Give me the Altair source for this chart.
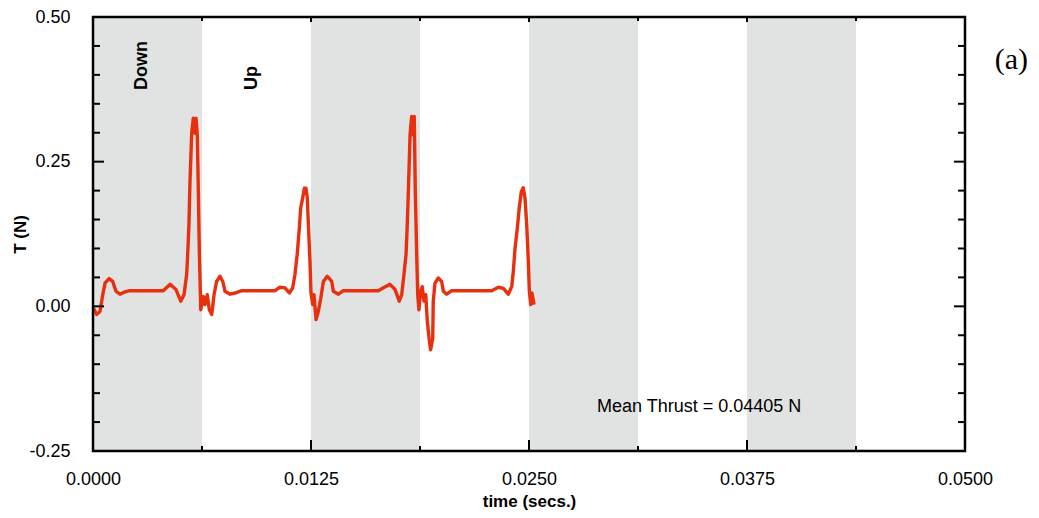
import altair as alt
import pandas as pd

W, H = 872, 434

# Thrust trace
time_s = [0.00002, 0.00021, 0.00040, 0.00056, 0.00069, 0.00092, 0.00113, 0.00132, 0.00155, 0.00183,
          0.00212, 0.00403, 0.00442, 0.00476, 0.00503, 0.00522, 0.00537, 0.00543, 0.00550, 0.00556,
          0.00566, 0.00575, 0.00585, 0.00591, 0.00598, 0.00604, 0.00610, 0.00618, 0.00632, 0.00642,
          0.00655, 0.00667, 0.00681, 0.00694, 0.00709, 0.00728, 0.00744, 0.00757, 0.00786, 0.00814,
          0.00853, 0.01044, 0.01072, 0.01101, 0.01126, 0.01145, 0.01158, 0.01171, 0.01183, 0.01191,
          0.01202, 0.01212, 0.01221, 0.01229, 0.01235, 0.01244, 0.01250, 0.01260, 0.01267, 0.01279,
          0.01292, 0.01306, 0.01321, 0.01343, 0.01369, 0.01378, 0.01407, 0.01435, 0.01636, 0.01665,
          0.01703, 0.01732, 0.01756, 0.01770, 0.01783, 0.01795, 0.01802, 0.01810, 0.01818, 0.01827,
          0.01837, 0.01842, 0.01848, 0.01856, 0.01862, 0.01869, 0.01879, 0.01888, 0.01898, 0.01908,
          0.01917, 0.01927, 0.01936, 0.01948, 0.01951, 0.01961, 0.01980, 0.01999, 0.02009, 0.02028,
          0.02057, 0.02286, 0.02324, 0.02353, 0.02381, 0.02401, 0.02410, 0.02420, 0.02433, 0.02444,
          0.02456, 0.02467, 0.02477, 0.02487, 0.02496, 0.02502, 0.02510, 0.02517, 0.02529]
thrust_N = [-0.003, -0.014, -0.009, 0.020, 0.040, 0.048, 0.043, 0.026, 0.021, 0.025,
            0.027, 0.027, 0.038, 0.029, 0.009, 0.020, 0.055, 0.090, 0.140, 0.215,
            0.300, 0.325, 0.299, 0.325, 0.296, 0.198, 0.090, -0.006, 0.017, 0.003,
            0.020, -0.006, -0.014, 0.020, 0.043, 0.052, 0.043, 0.026, 0.021, 0.023,
            0.027, 0.027, 0.033, 0.032, 0.023, 0.032, 0.055, 0.090, 0.135, 0.170,
            0.187, 0.204, 0.204, 0.187, 0.141, 0.078, 0.023, 0.003, 0.020, -0.023,
            -0.009, 0.014, 0.043, 0.052, 0.043, 0.026, 0.021, 0.027, 0.027, 0.032,
            0.038, 0.029, 0.009, 0.020, 0.055, 0.090, 0.141, 0.215, 0.296, 0.328,
            0.296, 0.328, 0.198, 0.090, 0.020, -0.006, 0.026, 0.034, 0.009, 0.020,
            -0.026, -0.055, -0.075, -0.055, 0.009, 0.040, 0.049, 0.043, 0.026, 0.021,
            0.027, 0.027, 0.033, 0.031, 0.021, 0.034, 0.060, 0.100, 0.135, 0.170,
            0.198, 0.205, 0.187, 0.141, 0.078, 0.026, 0.003, 0.023, 0.003]

# Shaded stroke phases
band_start = [0.0, 0.0125, 0.025, 0.0375]
band_end = [0.00625, 0.01875, 0.03125, 0.04375]

# Tick values
x_major = [0.0, 0.0125, 0.025, 0.0375, 0.05]
x_minor = [0.00625, 0.01875, 0.03125, 0.04375]
y_major = [-0.25, 0.0, 0.25, 0.5]
y_minor = [-0.2, -0.15, -0.1, -0.05, 0.05, 0.1, 0.15, 0.2, 0.3, 0.35, 0.4, 0.45]

# Annotations
phase_labels = ["Down", "Up"]
phase_t = [0.00281, 0.00912]
phase_y = [0.374, 0.374]
mean_label = ["Mean Thrust = 0.04405 N"]
mean_t = [0.0289]
mean_y = [-0.174]
panel_label = ["(a)"]
panel_t = [0.0517]
panel_y = [0.426]

FONT = "Liberation Sans"
xs = alt.Scale(domain=[0, 0.05], nice=False, zero=False)
ys = alt.Scale(domain=[-0.25, 0.5], nice=False, zero=False)

XTITLE = "time  (secs.)"
YTITLE = "T  (N)"

xaxis = alt.Axis(values=x_major, format=".4f", ticks=False, tickSize=0, domain=False, grid=False,
                 labelPadding=19, labelFontSize=18, labelFont=FONT, labelColor="black",
                 labelFlush=False, labelOverlap=False,
                 titleFont=FONT, titleFontSize=17, titleFontWeight="bold",
                 titleColor="black", titleX=W / 2, titleY=50, titleAlign="center", titleBaseline="middle")
yaxis = alt.Axis(values=y_major, format=".2f", ticks=False, tickSize=0, domain=False, grid=False,
                 labelExpr="datum.value < 0 ? '-' + format(-datum.value, '.2f') : format(datum.value, '.2f')",
                 labelPadding=23, labelFontSize=18, labelFont=FONT, labelColor="black",
                 labelFlush=False, labelOverlap=False,
                 titleFont=FONT, titleFontSize=17, titleFontWeight="bold",
                 titleColor="black", titleX=-73, titleY=H / 2, titleAngle=270,
                 titleAlign="center", titleBaseline="middle")


def X(field):
    return alt.X(field, scale=xs, axis=xaxis, title=XTITLE)


def Y(field):
    return alt.Y(field, scale=ys, axis=yaxis, title=YTITLE)


bands = alt.Chart(pd.DataFrame({"start": band_start, "end": band_end})).mark_rect(
    color="#e1e2e2").encode(
    x=X("start:Q"), x2="end:Q",
    y=alt.value(0), y2=alt.value(H))

trace = alt.Chart(pd.DataFrame({"t": time_s, "T": thrust_N, "i": list(range(len(time_s)))})).mark_line(
    color="#e8300e", strokeWidth=3.4, strokeJoin="round").encode(
    x=X("t:Q"), y=Y("T:Q"), order="i:Q")


def yticks(vals, x0, x1):
    return alt.Chart(pd.DataFrame({"v": vals})).mark_rule(color="black", strokeWidth=2).encode(
        y=Y("v:Q"), x=alt.value(x0), x2=alt.value(x1))


def xticks(vals, y0, y1):
    return alt.Chart(pd.DataFrame({"v": vals})).mark_rule(color="black", strokeWidth=2).encode(
        x=X("v:Q"), y=alt.value(y0), y2=alt.value(y1))


ticks = [
    yticks(y_major, 0, 11), yticks(y_minor, 0, 7),
    yticks(y_major, W - 11, W), yticks(y_minor, W - 7, W),
    xticks(x_major, H, H - 11), xticks(x_minor, H, H - 5),
    xticks(x_major, 0, 5), xticks(x_minor, 0, 4),
]

frame = alt.Chart(pd.DataFrame({"k": [0]})).mark_rect(
    fillOpacity=0, stroke="black", strokeWidth=2.5).encode(
    x=alt.value(0), x2=alt.value(W), y=alt.value(0), y2=alt.value(H))

phases = alt.Chart(pd.DataFrame({"label": phase_labels, "t": phase_t, "y": phase_y})).mark_text(
    angle=270, align="left", baseline="middle", font=FONT, fontSize=18, fontWeight="bold",
    color="black").encode(
    x=X("t:Q"), y=Y("y:Q"), text="label:N")

mean_txt = alt.Chart(pd.DataFrame({"label": mean_label, "t": mean_t, "y": mean_y})).mark_text(
    align="left", baseline="middle", font=FONT, fontSize=18, color="black").encode(
    x=X("t:Q"), y=Y("y:Q"), text="label:N")

panel_txt = alt.Chart(pd.DataFrame({"label": panel_label, "t": panel_t, "y": panel_y})).mark_text(
    align="left", baseline="middle", font="Liberation Serif", fontSize=30, color="black").encode(
    x=X("t:Q"), y=Y("y:Q"), text="label:N")

chart = alt.layer(bands, trace, *ticks, frame, phases, mean_txt, panel_txt).properties(
    width=W, height=H,
    autosize=alt.AutoSizeParams(type="none"),
    padding={"left": 85, "top": 9, "right": 66, "bottom": 59},
).configure_view(stroke=None)

chart.save("out.html", embed_options={"renderer": "svg", "actions": False})
